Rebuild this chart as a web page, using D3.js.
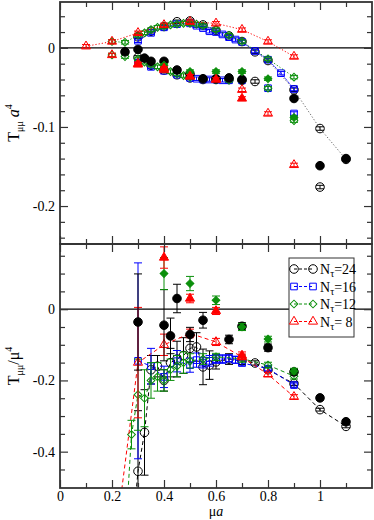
<!DOCTYPE html>
<html><head><meta charset="utf-8">
<script src="https://cdn.jsdelivr.net/npm/d3@7"></script>
<style>
body{margin:0;background:#fff}
svg{display:block;font-family:"Liberation Serif","DejaVu Serif",serif}
</style></head><body>
<div id="chart"></div>
<script>
const black = '#000', blue = '#0000ff', green = '#0b8f0b', red = '#ff0000';

// ---- top panel: T_mumu a^4 ----
// N_tau = 24
const t24x = [0.3,0.35,0.4,0.45,0.5,0.55,0.6,0.65,0.7,0.75,0.8,0.9,1.0,1.1];
const t24y = [0.014,0.021,0.027,0.033,0.034,0.029,0.022,0.015,0.008,-0.005,-0.016,-0.053,-0.102,-0.141];
const b24x = [0.3,0.35,0.4,0.45,0.5,0.55,0.6,0.65,0.7,0.75,1.0];
const b24y = [-0.012,-0.022,-0.028,-0.034,-0.038,-0.040,-0.040,-0.040,-0.041,-0.0425,-0.176];
const f24x = [0.25,0.3,0.325,0.35,0.4,0.45,0.5,0.55,0.6,0.65,0.7,0.9,1.0,1.1];
const f24y = [-0.005,-0.002,-0.013,-0.017,-0.017,-0.028,-0.033,-0.039,-0.039,-0.038,-0.040,-0.064,-0.149,-0.140];
// N_tau = 16
const t16x = [0.3,0.35,0.4,0.45,0.5,0.525,0.55,0.575,0.6,0.625,0.65,0.675,0.7,0.75,0.8,0.85,0.9];
const t16y = [0.009,0.019,0.026,0.030,0.031,0.028,0.025,0.021,0.020,0.017,0.0135,0.0105,0.0075,-0.004,-0.015,-0.032,-0.052];
const b16x = [0.3,0.35,0.4,0.45,0.5,0.525,0.55,0.575,0.6,0.625,0.65,0.7,0.8,0.9];
const b16y = [-0.019,-0.024,-0.029,-0.034,-0.038,-0.039,-0.040,-0.040,-0.040,-0.041,-0.041,-0.041,-0.051,-0.083];
// N_tau = 12
const t12x = [0.2,0.25,0.3,0.325,0.35,0.375,0.4,0.425,0.45,0.475,0.5,0.525,0.55,0.6,0.65,0.7,0.8,0.9];
const t12y = [0.008,0.007,0.016,0.019,0.023,0.026,0.027,0.029,0.030,0.031,0.031,0.030,0.028,0.023,0.016,0.008,-0.014,-0.037];
const b12x = [0.2,0.25,0.3,0.325,0.35,0.375,0.4,0.425,0.45,0.475,0.5,0.55,0.6,0.65,0.7,0.8,0.9];
const b12y = [-0.009,-0.011,-0.014,-0.018,-0.021,-0.024,-0.027,-0.030,-0.033,-0.035,-0.037,-0.039,-0.040,-0.041,-0.041,-0.051,-0.092];
const f12x = [0.4,0.5,0.6,0.7,0.8,0.9];
const f12y = [-0.022,-0.030,-0.030,-0.030,-0.039,-0.088];
// N_tau = 8
const t8x = [0.1,0.2,0.3,0.4,0.5,0.6,0.7,0.8,0.9];
const t8y = [0.002,0.008,0.019,0.029,0.033,0.031,0.023,0.008,-0.011];
const b8x = [0.2,0.3,0.4,0.5,0.6,0.7,0.8,0.9];
const b8y = [-0.009,-0.020,-0.028,-0.036,-0.040,-0.053,-0.083,-0.148];
const f8x = [0.3,0.4,0.5,0.6,0.7];
const f8y = [-0.021,-0.026,-0.036,-0.040,-0.064];
const topErr = 0.0022;

// ---- bottom panel: T_mumu / mu^4 ----
const l24x = [0.25,0.3,0.325,0.35,0.375,0.4,0.425,0.45,0.475,0.5,0.525,0.55,0.575,0.6,0.65,0.7,0.75,0.8,0.9,1.0,1.1];
const l24y = [-0.85,-0.455,-0.346,-0.17,-0.16,-0.20,-0.15,-0.14,-0.13,-0.11,-0.106,-0.162,-0.157,-0.148,-0.14,-0.145,-0.151,-0.17,-0.209,-0.282,-0.329];
const l24e = [0,0.17,0.12,0.04,0.03,0.03,0.04,0.05,0.05,0.04,0.04,0.05,0.04,0.02,0.015,0.01,0.006,0.006,0.005,0.004,0.004];
const l16x = [0.3,0.35,0.4,0.45,0.5,0.525,0.55,0.575,0.6,0.625,0.65,0.675,0.7,0.8,0.9];
const l16y = [-0.145,-0.16,-0.19,-0.146,-0.157,-0.143,-0.15,-0.145,-0.14,-0.14,-0.138,-0.142,-0.151,-0.167,-0.213];
const l16e = [0.275,0.05,0.03,0.03,0.02,0.02,0.015,0.015,0.012,0.012,0.01,0.01,0.008,0.006,0.006];
const l12x = [0.25,0.275,0.3,0.325,0.35,0.375,0.4,0.425,0.45,0.475,0.5,0.55,0.6,0.7,0.8,0.9];
const l12y = [-0.65,-0.352,-0.24,-0.25,-0.20,-0.19,-0.20,-0.17,-0.16,-0.15,-0.145,-0.14,-0.134,-0.139,-0.157,-0.188];
const l12e = [0,0.04,0.1,0.08,0.05,0.04,0.03,0.03,0.03,0.03,0.02,0.015,0.01,0.01,0.008,0.008];
const l8x = [0.2,0.3,0.4,0.5,0.6,0.7,0.8,0.9];
const l8y = [-0.72,-0.15,-0.10,-0.068,-0.092,-0.134,-0.183,-0.246];
const l8e = [0,0.155,0.03,0.012,0.01,0.008,0.006,0.006];
const g24x = [0.3,0.4,0.425,0.45,0.5,0.55,0.65,0.7,0.8,0.9,1.0,1.1];
const g24y = [-0.036,-0.045,-0.075,0.03,-0.071,-0.031,-0.085,-0.048,-0.108,-0.176,-0.249,-0.316];
const g24e = [0.135,0.1,0.05,0.04,0.02,0.022,0.012,0.01,0.01,0.008,0.006,0.006];
const g12x = [0.4,0.5,0.6,0.7,0.8,0.9];
const g12y = [0.10,0.072,0.025,-0.05,-0.084,-0.174];
const g12e = [0.045,0.02,0.012,0.01,0.008,0.008];
const g8x = [0.4,0.5,0.6,0.7];
const g8y = [0.145,0.03,-0.005,-0.13];
const g8e = [0.03,0.012,0.01,0.01];

const legendLabels = ['24', '16', '12', ' 8'];

const W = 374, H = 520;
const L = 60, R = 372, T0 = 2, MID = 244, B1 = 488;
const serif = '"Liberation Serif","Times New Roman",serif';

const svg = d3.select('#chart').append('svg').attr('width', W).attr('height', H);
const x = d3.scaleLinear().domain([0, 1.2]).range([L, R]);
const yTop = d3.scaleLinear().domain([-0.248, 0.058]).range([MID, T0]);
const yBot = d3.scaleLinear().domain([-0.502, 0.183]).range([B1, MID]);

const shapes = {
  circle:   d3.symbol().type(d3.symbolCircle).size(58)(),
  square:   d3.symbol().type(d3.symbolSquare).size(44)(),
  diamond:  d3.symbol().type(d3.symbolSquare).size(30)(),
  triangle: d3.symbol().type(d3.symbolTriangle).size(36)()
};
const style = {
  24: { c: black, s: 'circle' },
  16: { c: blue, s: 'square' },
  12: { c: green, s: 'diamond' },
  8:  { c: red, s: 'triangle' }
};

svg.append('clipPath').attr('id', 'cTop').append('rect')
  .attr('x', L).attr('y', T0).attr('width', R - L).attr('height', MID - T0);
svg.append('clipPath').attr('id', 'cBot').append('rect')
  .attr('x', L).attr('y', MID).attr('width', R - L).attr('height', B1 - MID);

function marker(g, px, py, st, filled) {
  g.append('path')
    .attr('d', shapes[st.s])
    .attr('transform', `translate(${px},${py})` + (st.s === 'diamond' ? ' rotate(45)' : ''))
    .attr('fill', filled ? st.c : 'none')
    .attr('stroke', st.c).attr('stroke-width', 1);
}

function series(g, yS, xs, ys, es, nt, filled, lineStyle) {
  const st = style[nt];
  const pts = d3.zip(xs, ys, es);
  if (lineStyle) {
    g.append('path').datum(pts)
      .attr('d', d3.line().x(d => x(d[0])).y(d => yS(d[1])))
      .attr('fill', 'none')
      .attr('stroke', lineStyle.color || st.c)
      .attr('stroke-width', lineStyle.w || 1)
      .attr('stroke-dasharray', lineStyle.dash);
  }
  pts.forEach(d => {
    if (d[2] > 0) {
      const px = x(d[0]), y1 = yS(d[1] + d[2]), y2 = yS(d[1] - d[2]);
      g.append('line').attr('x1', px).attr('x2', px).attr('y1', y1).attr('y2', y2)
        .attr('stroke', st.c).attr('stroke-width', 1);
      [y1, y2].forEach(yy => g.append('line').attr('x1', px - 4).attr('x2', px + 4)
        .attr('y1', yy).attr('y2', yy).attr('stroke', st.c).attr('stroke-width', 1));
    }
  });
  pts.forEach(d => marker(g, x(d[0]), yS(d[1]), st, filled));
}

const errs = arr => arr.map(() => topErr);

// TOP PANEL
(function() {
  const g = svg.append('g').attr('clip-path', 'url(#cTop)');
  g.append('line').attr('x1', L).attr('x2', R).attr('y1', yTop(0)).attr('y2', yTop(0))
    .attr('stroke', '#000').attr('stroke-width', 1.2);
  const dot = { dash: '1.2,2', w: 1 };
  series(g, yTop, t24x, t24y, errs(t24x), 24, false, { dash: '1.2,2', color: '#666' });
  series(g, yTop, t16x, t16y, errs(t16x), 16, false, { dash: '3,1', w: 0.8 });
  series(g, yTop, t12x, t12y, errs(t12x), 12, false, dot);
  series(g, yTop, t8x, t8y, errs(t8x), 8, false, dot);
  series(g, yTop, b24x, b24y, errs(b24x), 24, false);
  series(g, yTop, b16x, b16y, errs(b16x), 16, false);
  series(g, yTop, b12x, b12y, errs(b12x), 12, false);
  series(g, yTop, b8x, b8y, errs(b8x), 8, false);
  series(g, yTop, f24x, f24y, errs(f24x), 24, true);
  series(g, yTop, f12x, f12y, errs(f12x), 12, true);
  series(g, yTop, f8x, f8y, errs(f8x), 8, true);
})();

// BOTTOM PANEL
(function() {
  const g = svg.append('g').attr('clip-path', 'url(#cBot)');
  g.append('line').attr('x1', L).attr('x2', R).attr('y1', yBot(0)).attr('y2', yBot(0))
    .attr('stroke', '#000').attr('stroke-width', 1.2);
  const dash = { dash: '4,3', w: 1 };
  series(g, yBot, l24x, l24y, l24e, 24, false, dash);
  series(g, yBot, l16x, l16y, l16e, 16, false, dash);
  series(g, yBot, l12x, l12y, l12e, 12, false, dash);
  series(g, yBot, l8x, l8y, l8e, 8, false, dash);
  series(g, yBot, g24x, g24y, g24e, 24, true);
  series(g, yBot, g12x, g12y, g12e, 12, true);
  series(g, yBot, g8x, g8y, g8e, 8, true);
})();

// AXES
function axes(yS, top, bottom, yMajor, yMinor, yFmt, xLabels) {
  const ax = svg.append('g');
  const xMajor = [0, 0.2, 0.4, 0.6, 0.8, 1.0];
  const xMinor = [0.1, 0.3, 0.5, 0.7, 0.9, 1.1];
  const fx = d => d === 0 ? '0' : d === 1 ? '1' : d3.format('.1f')(d);
  const clean = a => { a.select('.domain').remove(); a.selectAll('line').attr('stroke', '#333').attr('stroke-width', 1.2); };

  ax.append('g').attr('transform', `translate(${L},0)`)
    .call(d3.axisLeft(yS).tickValues(yMajor).tickSize(-8).tickPadding(5).tickFormat(yFmt)).call(clean);
  ax.append('g').attr('transform', `translate(${L},0)`)
    .call(d3.axisLeft(yS).tickValues(yMinor).tickSize(-5).tickFormat('')).call(clean);
  ax.append('g').attr('transform', `translate(${R},0)`)
    .call(d3.axisRight(yS).tickValues(yMajor).tickSize(-8).tickFormat('')).call(clean);
  ax.append('g').attr('transform', `translate(${R},0)`)
    .call(d3.axisRight(yS).tickValues(yMinor).tickSize(-5).tickFormat('')).call(clean);
  ax.append('g').attr('transform', `translate(0,${top})`)
    .call(d3.axisTop(x).tickValues(xMajor).tickSize(-8).tickFormat('')).call(clean);
  ax.append('g').attr('transform', `translate(0,${top})`)
    .call(d3.axisTop(x).tickValues(xMinor).tickSize(-5).tickFormat('')).call(clean);
  ax.append('g').attr('transform', `translate(0,${bottom})`)
    .call(d3.axisBottom(x).tickValues(xMajor).tickSize(-8).tickPadding(3).tickFormat(xLabels ? fx : '')).call(clean);
  ax.append('g').attr('transform', `translate(0,${bottom})`)
    .call(d3.axisBottom(x).tickValues(xMinor).tickSize(-5).tickFormat('')).call(clean);
  ax.selectAll('text').attr('fill', '#000').style('font-family', serif).style('font-size', '14px');
  svg.append('rect').attr('x', L).attr('y', top).attr('width', R - L).attr('height', bottom - top)
    .attr('fill', 'none').attr('stroke', '#333').attr('stroke-width', 1.8);
}

axes(yTop, T0, MID, [0, -0.1, -0.2], [0.04, 0.02, -0.02, -0.04, -0.06, -0.08, -0.12, -0.14, -0.16, -0.18, -0.22, -0.24],
  d => d === 0 ? '0' : '-' + Math.abs(d).toFixed(1), false);
axes(yBot, MID, B1, [0, -0.2, -0.4], [0.15, 0.1, 0.05, -0.05, -0.1, -0.15, -0.25, -0.3, -0.35, -0.45],
  d => d === 0 ? '0' : '-' + Math.abs(d).toFixed(1), true);

// axis titles
const titles = svg.append('g').attr('fill', '#000').style('font-family', serif);
const xt = titles.append('text').attr('x', (L + R) / 2).attr('y', 516).attr('text-anchor', 'middle').style('font-size', '14px');
xt.append('tspan').text('μ');
xt.append('tspan').attr('font-style', 'italic').text('a');

const yt1 = titles.append('text').attr('transform', `translate(19,${(T0 + MID) / 2}) rotate(-90)`)
  .attr('text-anchor', 'middle').style('font-size', '16px');
yt1.append('tspan').text('T');
yt1.append('tspan').attr('dy', 4).style('font-size', '10px').text('μμ');
yt1.append('tspan').attr('dy', -4).attr('font-style', 'italic').text(' a');
yt1.append('tspan').attr('dy', -7).style('font-size', '10px').text('4');

const yt2 = titles.append('text').attr('transform', `translate(19,${(MID + B1) / 2}) rotate(-90)`)
  .attr('text-anchor', 'middle').style('font-size', '16px');
yt2.append('tspan').text('T');
yt2.append('tspan').attr('dy', 4).style('font-size', '10px').text('μμ');
yt2.append('tspan').attr('dy', -4).text('/μ');
yt2.append('tspan').attr('dy', -7).style('font-size', '10px').text('4');

// LEGEND
(function() {
  const lg = svg.append('g');
  lg.append('rect').attr('x', 289).attr('y', 258).attr('width', 65).attr('height', 79)
    .attr('fill', '#fff').attr('stroke', '#333').attr('stroke-width', 1);
  [24, 16, 12, 8].forEach((nt, i) => {
    const yy = 269 + i * 17.5;
    const st = style[nt];
    lg.append('line').attr('x1', 294).attr('x2', 313).attr('y1', yy).attr('y2', yy)
      .attr('stroke', st.c).attr('stroke-dasharray', '3,2');
    marker(lg, 294, yy, st, false);
    marker(lg, 313, yy, st, false);
    const t = lg.append('text').attr('x', 320).attr('y', yy + 5).attr('fill', '#000')
      .style('font-family', serif).style('font-size', '14px');
    t.append('tspan').text('N');
    t.append('tspan').attr('dy', 3).style('font-size', '10px').text('τ');
    t.append('tspan').attr('dy', -3).style('white-space', 'pre').text('=' + legendLabels[i]);
  });
})();
</script></body></html>
